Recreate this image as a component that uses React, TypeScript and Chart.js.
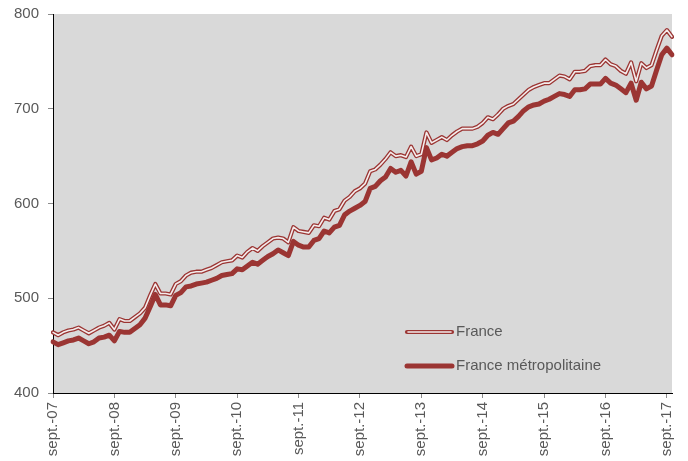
import React, { useEffect, useRef } from "react";
import { Chart, registerables } from "chart.js";

Chart.register(...registerables);

const monthNames = ["janv.", "févr.", "mars", "avr.", "mai", "juin", "juil.", "août", "sept.", "oct.", "nov.", "déc."];
const startMonth = 8; // septembre
const startYear = 2007;
const pointCount = 122;

const categories: string[] = Array.from({ length: pointCount }, (_, i) => {
  const m = (startMonth + i) % 12;
  const y = startYear + Math.floor((startMonth + i) / 12);
  return `${monthNames[m]}-${String(y % 100).padStart(2, "0")}`;
});

const franceValues = [
  464, 461, 464, 466, 467, 469, 466, 463, 466, 469, 471, 474,
  467, 478, 476, 476, 480, 484, 490, 503, 515, 505, 505, 504,
  515, 518, 524, 527, 528, 528, 530, 532, 535, 538, 539, 540,
  545, 543, 549, 553, 550, 555, 559, 563, 564, 563, 559, 575,
  571, 570, 569, 577, 576, 585, 583, 592, 594, 603, 607, 613,
  616, 621, 634, 636, 641, 647, 654, 650, 651, 649, 660, 650,
  652, 675, 664, 667, 670, 667, 672, 676, 679, 679, 679, 681,
  685, 691, 689, 694, 700, 703, 705, 710, 715, 720, 723, 725,
  727, 727, 731, 735, 734, 731, 739, 739, 740, 745, 746, 746,
  752, 747, 745, 740, 737, 749, 729, 748, 743, 746, 762, 777,
  783, 776,
];

const metroValues = [
  454, 451, 453, 455, 456, 458, 455, 452, 454, 458, 459, 461,
  455, 465, 464, 464, 468, 472, 479, 491, 504, 493, 493, 492,
  503, 506, 512, 513, 515, 516, 517, 519, 521, 524, 525, 526,
  531, 530, 534, 538, 536, 540, 544, 547, 551, 548, 545, 560,
  556, 554, 554, 561, 563, 571, 569, 575, 577, 588, 592, 595,
  598, 602, 616, 618, 624, 628, 637, 633, 635, 629, 644, 631,
  634, 659, 646, 648, 652, 650, 654, 658, 660, 661, 661, 663,
  666, 672, 675, 673, 679, 685, 687, 692, 698, 702, 704, 705,
  708, 710, 713, 716, 715, 713, 720, 720, 721, 726, 726, 726,
  732, 727, 725, 721, 717, 727, 709, 728, 721, 724, 741, 757,
  764, 757,
];

const seriesNames = ["France", "France métropolitaine"];
const yTicks = [400, 500, 600, 700, 800];

const RED = "#9B3533";
const INNER = "#F4ECEC";
const PLOT_BG = "#D9D9D9";
const TEXT = "#595959";
const FONT_FAMILY = '"Liberation Sans", Arial, sans-serif';

const plotBgPlugin = {
  id: "plotBg",
  beforeDraw(chart: any) {
    const { ctx, chartArea: a } = chart;
    ctx.save();
    ctx.fillStyle = PLOT_BG;
    ctx.fillRect(a.left, a.top, a.right - a.left, a.bottom - a.top);
    ctx.restore();
  },
};

const legendPlugin = {
  id: "customLegend",
  afterDraw(chart: any) {
    const { ctx, chartArea: a } = chart;
    const x0 = a.left + 354;
    const x1 = x0 + 45;
    const y1 = a.top + 318;
    const y2 = a.top + 352;
    ctx.save();
    ctx.lineCap = "round";
    // France (double line)
    ctx.strokeStyle = RED;
    ctx.lineWidth = 4.2;
    ctx.beginPath();
    ctx.moveTo(x0, y1);
    ctx.lineTo(x1, y1);
    ctx.stroke();
    ctx.strokeStyle = INNER;
    ctx.lineWidth = 1.6;
    ctx.beginPath();
    ctx.moveTo(x0 + 1, y1);
    ctx.lineTo(x1 - 1, y1);
    ctx.stroke();
    // France métropolitaine
    ctx.strokeStyle = RED;
    ctx.lineWidth = 5;
    ctx.beginPath();
    ctx.moveTo(x0, y2);
    ctx.lineTo(x1, y2);
    ctx.stroke();
    ctx.fillStyle = TEXT;
    ctx.font = `15px ${FONT_FAMILY}`;
    ctx.textBaseline = "middle";
    ctx.textAlign = "left";
    ctx.fillText(seriesNames[0], x1 + 4, y1);
    ctx.fillText(seriesNames[1], x1 + 4, y2);
    ctx.restore();
  },
};

export default function App() {
  const canvasRef = useRef<HTMLCanvasElement | null>(null);

  useEffect(() => {
    const canvas = canvasRef.current;
    if (!canvas) return;
    const lineBase = {
      pointRadius: 0,
      tension: 0,
      borderJoinStyle: "round" as const,
      borderCapStyle: "round" as const,
    };
    const chart = new Chart(canvas, {
      type: "line",
      data: {
        labels: categories,
        datasets: [
          {
            ...lineBase,
            label: seriesNames[0] + " (inner)",
            data: franceValues,
            borderColor: INNER,
            borderWidth: 1.6,
            order: 0,
          },
          {
            ...lineBase,
            label: seriesNames[0],
            data: franceValues,
            borderColor: RED,
            borderWidth: 4.2,
            order: 1,
          },
          {
            ...lineBase,
            label: seriesNames[1],
            data: metroValues,
            borderColor: RED,
            borderWidth: 5,
            order: 2,
          },
        ],
      },
      options: {
        responsive: false,
        animation: false,
        events: [],
        layout: { padding: { top: 14, right: 16, left: 0, bottom: 0 } },
        plugins: {
          legend: { display: false },
          tooltip: { enabled: false },
        },
        scales: {
          x: {
            type: "category",
            offset: false,
            grid: {
              display: true,
              drawOnChartArea: false,
              drawTicks: true,
              tickLength: 5,
              color: (c: any) => (c.index % 12 === 0 ? "#8C8C8C" : "rgba(0,0,0,0)"),
            },
            border: { display: true, color: "#000000", width: 1 },
            ticks: {
              autoSkip: false,
              minRotation: 90,
              maxRotation: 90,
              padding: 4,
              color: TEXT,
              font: { family: FONT_FAMILY, size: 15 },
              callback: (_v: any, i: number) => (i % 12 === 0 ? categories[i] : ""),
            },
            afterFit: (s: any) => {
              s.height = 68;
              s.paddingLeft = 0;
              s.paddingRight = 0;
            },
          },
          y: {
            min: 400,
            max: 800,
            afterBuildTicks: (s: any) => {
              s.ticks = yTicks.map((v) => ({ value: v }));
            },
            grid: {
              display: true,
              drawOnChartArea: false,
              drawTicks: true,
              tickLength: 5,
              color: "#8C8C8C",
            },
            border: { display: true, color: "#000000", width: 1 },
            ticks: {
              padding: 9,
              color: TEXT,
              font: { family: FONT_FAMILY, size: 15 },
            },
            afterFit: (s: any) => {
              s.width = 53;
              s.paddingTop = 0;
              s.paddingBottom = 0;
            },
          },
        },
      },
      plugins: [plotBgPlugin, legendPlugin],
    });
    return () => chart.destroy();
  }, []);

  return (
    <canvas
      ref={canvasRef}
      width={688}
      height={461}
      style={{ position: "fixed", left: 0, top: 0, width: 688, height: 461 }}
    />
  );
}
